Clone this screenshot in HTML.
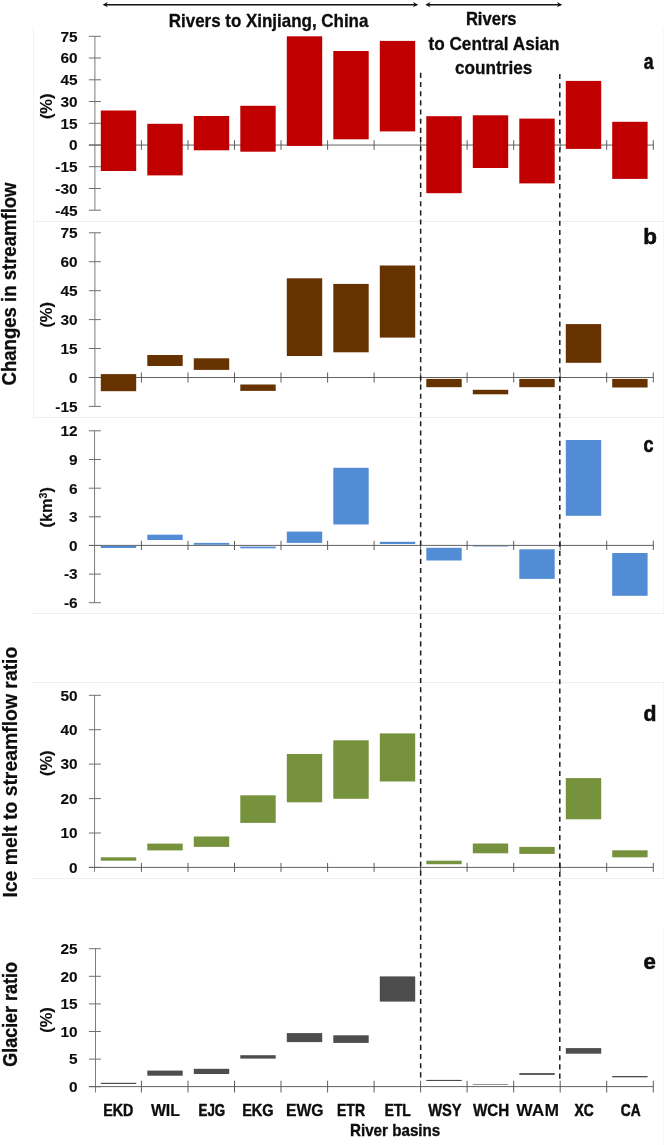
<!DOCTYPE html>
<html><head><meta charset="utf-8"><title>chart</title>
<style>html,body{margin:0;padding:0;background:#fff;}svg{display:block;will-change:transform}</style>
</head><body>
<svg width="666" height="1145" viewBox="0 0 666 1145" font-family="Liberation Sans, sans-serif" font-weight="bold" font-kerning="none" fill="#0d0d0d">
<rect x="0" y="0" width="666" height="1145" fill="#fff"/>
<line x1="33" y1="221.5" x2="664" y2="221.5" stroke="#eeeeee" stroke-width="1"/>
<line x1="33" y1="417.5" x2="664" y2="417.5" stroke="#eeeeee" stroke-width="1"/>
<line x1="33" y1="613.5" x2="664" y2="613.5" stroke="#eeeeee" stroke-width="1"/>
<line x1="33" y1="682.5" x2="664" y2="682.5" stroke="#eeeeee" stroke-width="1"/>
<line x1="33" y1="878.5" x2="664" y2="878.5" stroke="#eeeeee" stroke-width="1"/>
<line x1="33.5" y1="26" x2="33.5" y2="417.5" stroke="#f3f3f3" stroke-width="1"/>
<line x1="663.5" y1="28" x2="663.5" y2="613.5" stroke="#f6f6f6" stroke-width="1"/>
<line x1="663.5" y1="682.5" x2="663.5" y2="878.5" stroke="#f6f6f6" stroke-width="1"/>
<line x1="663.5" y1="930" x2="663.5" y2="1145" stroke="#f6f6f6" stroke-width="1"/>
<line x1="94.9" y1="36.3" x2="94.9" y2="210.2" stroke="#7c7c7c" stroke-width="1"/>
<line x1="88.9" y1="36.3" x2="100.9" y2="36.3" stroke="#707070" stroke-width="1"/>
<line x1="88.9" y1="58.0" x2="100.9" y2="58.0" stroke="#707070" stroke-width="1"/>
<line x1="88.9" y1="79.8" x2="100.9" y2="79.8" stroke="#707070" stroke-width="1"/>
<line x1="88.9" y1="101.5" x2="100.9" y2="101.5" stroke="#707070" stroke-width="1"/>
<line x1="88.9" y1="123.3" x2="100.9" y2="123.3" stroke="#707070" stroke-width="1"/>
<line x1="88.9" y1="145.0" x2="100.9" y2="145.0" stroke="#707070" stroke-width="1"/>
<line x1="88.9" y1="166.7" x2="100.9" y2="166.7" stroke="#707070" stroke-width="1"/>
<line x1="88.9" y1="188.5" x2="100.9" y2="188.5" stroke="#707070" stroke-width="1"/>
<line x1="88.9" y1="210.2" x2="100.9" y2="210.2" stroke="#707070" stroke-width="1"/>
<line x1="88.9" y1="145.05" x2="653.26" y2="145.05" stroke="#626262" stroke-width="1"/>
<line x1="141.4" y1="140.25" x2="141.4" y2="149.85000000000002" stroke="#5c5c5c" stroke-width="1"/>
<line x1="188.0" y1="140.25" x2="188.0" y2="149.85000000000002" stroke="#5c5c5c" stroke-width="1"/>
<line x1="234.5" y1="140.25" x2="234.5" y2="149.85000000000002" stroke="#5c5c5c" stroke-width="1"/>
<line x1="281.0" y1="140.25" x2="281.0" y2="149.85000000000002" stroke="#5c5c5c" stroke-width="1"/>
<line x1="327.6" y1="140.25" x2="327.6" y2="149.85000000000002" stroke="#5c5c5c" stroke-width="1"/>
<line x1="374.1" y1="140.25" x2="374.1" y2="149.85000000000002" stroke="#5c5c5c" stroke-width="1"/>
<line x1="420.6" y1="140.25" x2="420.6" y2="149.85000000000002" stroke="#5c5c5c" stroke-width="1"/>
<line x1="467.1" y1="140.25" x2="467.1" y2="149.85000000000002" stroke="#5c5c5c" stroke-width="1"/>
<line x1="513.7" y1="140.25" x2="513.7" y2="149.85000000000002" stroke="#5c5c5c" stroke-width="1"/>
<line x1="560.2" y1="140.25" x2="560.2" y2="149.85000000000002" stroke="#5c5c5c" stroke-width="1"/>
<line x1="606.7" y1="140.25" x2="606.7" y2="149.85000000000002" stroke="#5c5c5c" stroke-width="1"/>
<line x1="653.3" y1="140.25" x2="653.3" y2="149.85000000000002" stroke="#5c5c5c" stroke-width="1"/>
<rect x="100.8" y="110.5" width="35.4" height="60.5" fill="#c00000"/>
<rect x="147.3" y="123.8" width="35.4" height="51.6" fill="#c00000"/>
<rect x="193.8" y="116.0" width="35.4" height="34.3" fill="#c00000"/>
<rect x="240.3" y="105.8" width="35.4" height="45.9" fill="#c00000"/>
<rect x="286.8" y="36.3" width="35.4" height="109.6" fill="#c00000"/>
<rect x="333.3" y="51.0" width="35.4" height="88.3" fill="#c00000"/>
<rect x="379.8" y="40.9" width="35.4" height="90.5" fill="#c00000"/>
<rect x="426.3" y="116.2" width="35.4" height="77.0" fill="#c00000"/>
<rect x="472.8" y="115.3" width="35.4" height="52.7" fill="#c00000"/>
<rect x="519.3" y="118.6" width="35.4" height="64.8" fill="#c00000"/>
<rect x="565.8" y="80.9" width="35.4" height="68.0" fill="#c00000"/>
<rect x="612.2" y="121.8" width="35.4" height="57.1" fill="#c00000"/>
<line x1="94.9" y1="232.8" x2="94.9" y2="406.4" stroke="#7c7c7c" stroke-width="1"/>
<line x1="88.9" y1="232.8" x2="100.9" y2="232.8" stroke="#707070" stroke-width="1"/>
<line x1="88.9" y1="261.7" x2="100.9" y2="261.7" stroke="#707070" stroke-width="1"/>
<line x1="88.9" y1="290.7" x2="100.9" y2="290.7" stroke="#707070" stroke-width="1"/>
<line x1="88.9" y1="319.6" x2="100.9" y2="319.6" stroke="#707070" stroke-width="1"/>
<line x1="88.9" y1="348.5" x2="100.9" y2="348.5" stroke="#707070" stroke-width="1"/>
<line x1="88.9" y1="377.5" x2="100.9" y2="377.5" stroke="#707070" stroke-width="1"/>
<line x1="88.9" y1="406.4" x2="100.9" y2="406.4" stroke="#707070" stroke-width="1"/>
<line x1="88.9" y1="377.5" x2="653.26" y2="377.5" stroke="#626262" stroke-width="1"/>
<line x1="141.4" y1="372.5" x2="141.4" y2="382.5" stroke="#5c5c5c" stroke-width="1"/>
<line x1="188.0" y1="372.5" x2="188.0" y2="382.5" stroke="#5c5c5c" stroke-width="1"/>
<line x1="234.5" y1="372.5" x2="234.5" y2="382.5" stroke="#5c5c5c" stroke-width="1"/>
<line x1="281.0" y1="372.5" x2="281.0" y2="382.5" stroke="#5c5c5c" stroke-width="1"/>
<line x1="327.6" y1="372.5" x2="327.6" y2="382.5" stroke="#5c5c5c" stroke-width="1"/>
<line x1="374.1" y1="372.5" x2="374.1" y2="382.5" stroke="#5c5c5c" stroke-width="1"/>
<line x1="420.6" y1="372.5" x2="420.6" y2="382.5" stroke="#5c5c5c" stroke-width="1"/>
<line x1="467.1" y1="372.5" x2="467.1" y2="382.5" stroke="#5c5c5c" stroke-width="1"/>
<line x1="513.7" y1="372.5" x2="513.7" y2="382.5" stroke="#5c5c5c" stroke-width="1"/>
<line x1="560.2" y1="372.5" x2="560.2" y2="382.5" stroke="#5c5c5c" stroke-width="1"/>
<line x1="606.7" y1="372.5" x2="606.7" y2="382.5" stroke="#5c5c5c" stroke-width="1"/>
<line x1="653.3" y1="372.5" x2="653.3" y2="382.5" stroke="#5c5c5c" stroke-width="1"/>
<rect x="100.8" y="374.1" width="35.4" height="17.1" fill="#663300"/>
<rect x="147.3" y="355.0" width="35.4" height="11.0" fill="#663300"/>
<rect x="193.8" y="358.3" width="35.4" height="11.6" fill="#663300"/>
<rect x="240.3" y="384.5" width="35.4" height="6.4" fill="#663300"/>
<rect x="286.8" y="278.3" width="35.4" height="77.7" fill="#663300"/>
<rect x="333.3" y="283.9" width="35.4" height="68.4" fill="#663300"/>
<rect x="379.8" y="265.5" width="35.4" height="72.1" fill="#663300"/>
<rect x="426.3" y="378.9" width="35.4" height="8.3" fill="#663300"/>
<rect x="472.8" y="389.8" width="35.4" height="4.5" fill="#663300"/>
<rect x="519.3" y="378.9" width="35.4" height="8.3" fill="#663300"/>
<rect x="565.8" y="324.1" width="35.4" height="38.7" fill="#663300"/>
<rect x="612.2" y="378.9" width="35.4" height="8.6" fill="#663300"/>
<line x1="94.55" y1="430.8" x2="94.55" y2="602.7" stroke="#7c7c7c" stroke-width="1"/>
<line x1="88.9" y1="430.8" x2="100.9" y2="430.8" stroke="#707070" stroke-width="1"/>
<line x1="88.9" y1="459.5" x2="100.9" y2="459.5" stroke="#707070" stroke-width="1"/>
<line x1="88.9" y1="488.2" x2="100.9" y2="488.2" stroke="#707070" stroke-width="1"/>
<line x1="88.9" y1="516.8" x2="100.9" y2="516.8" stroke="#707070" stroke-width="1"/>
<line x1="88.9" y1="545.5" x2="100.9" y2="545.5" stroke="#707070" stroke-width="1"/>
<line x1="88.9" y1="574.1" x2="100.9" y2="574.1" stroke="#707070" stroke-width="1"/>
<line x1="88.9" y1="602.7" x2="100.9" y2="602.7" stroke="#707070" stroke-width="1"/>
<line x1="88.9" y1="545.4" x2="653.26" y2="545.4" stroke="#626262" stroke-width="1"/>
<line x1="141.4" y1="540.8" x2="141.4" y2="550.0" stroke="#5c5c5c" stroke-width="1"/>
<line x1="188.0" y1="540.8" x2="188.0" y2="550.0" stroke="#5c5c5c" stroke-width="1"/>
<line x1="234.5" y1="540.8" x2="234.5" y2="550.0" stroke="#5c5c5c" stroke-width="1"/>
<line x1="281.0" y1="540.8" x2="281.0" y2="550.0" stroke="#5c5c5c" stroke-width="1"/>
<line x1="327.6" y1="540.8" x2="327.6" y2="550.0" stroke="#5c5c5c" stroke-width="1"/>
<line x1="374.1" y1="540.8" x2="374.1" y2="550.0" stroke="#5c5c5c" stroke-width="1"/>
<line x1="420.6" y1="540.8" x2="420.6" y2="550.0" stroke="#5c5c5c" stroke-width="1"/>
<line x1="467.1" y1="540.8" x2="467.1" y2="550.0" stroke="#5c5c5c" stroke-width="1"/>
<line x1="513.7" y1="540.8" x2="513.7" y2="550.0" stroke="#5c5c5c" stroke-width="1"/>
<line x1="560.2" y1="540.8" x2="560.2" y2="550.0" stroke="#5c5c5c" stroke-width="1"/>
<line x1="606.7" y1="540.8" x2="606.7" y2="550.0" stroke="#5c5c5c" stroke-width="1"/>
<line x1="653.3" y1="540.8" x2="653.3" y2="550.0" stroke="#5c5c5c" stroke-width="1"/>
<rect x="100.8" y="545.9" width="35.4" height="2.1" fill="#528cd5"/>
<rect x="147.3" y="534.7" width="35.4" height="5.3" fill="#528cd5"/>
<rect x="193.8" y="542.9" width="35.4" height="1.9" fill="#528cd5"/>
<rect x="240.3" y="546.6" width="35.4" height="1.7" fill="#528cd5"/>
<rect x="286.8" y="531.6" width="35.4" height="11.3" fill="#528cd5"/>
<rect x="333.3" y="467.8" width="35.4" height="56.7" fill="#528cd5"/>
<rect x="379.8" y="541.8" width="35.4" height="2.2" fill="#528cd5"/>
<rect x="426.3" y="547.8" width="35.4" height="12.7" fill="#528cd5"/>
<rect x="472.8" y="546.3" width="35.4" height="0.5" fill="#528cd5"/>
<rect x="519.3" y="549.3" width="35.4" height="29.6" fill="#528cd5"/>
<rect x="565.8" y="440.0" width="35.4" height="75.8" fill="#528cd5"/>
<rect x="612.2" y="553.0" width="35.4" height="42.8" fill="#528cd5"/>
<line x1="94.55" y1="695.3" x2="94.55" y2="871.9" stroke="#7c7c7c" stroke-width="1"/>
<line x1="88.9" y1="695.3" x2="100.9" y2="695.3" stroke="#707070" stroke-width="1"/>
<line x1="88.9" y1="729.7" x2="100.9" y2="729.7" stroke="#707070" stroke-width="1"/>
<line x1="88.9" y1="764.1" x2="100.9" y2="764.1" stroke="#707070" stroke-width="1"/>
<line x1="88.9" y1="798.6" x2="100.9" y2="798.6" stroke="#707070" stroke-width="1"/>
<line x1="88.9" y1="833.0" x2="100.9" y2="833.0" stroke="#707070" stroke-width="1"/>
<line x1="88.9" y1="867.4" x2="100.9" y2="867.4" stroke="#707070" stroke-width="1"/>
<line x1="88.9" y1="867.4" x2="653.26" y2="867.4" stroke="#626262" stroke-width="1"/>
<line x1="141.4" y1="862.9" x2="141.4" y2="871.9" stroke="#5c5c5c" stroke-width="1"/>
<line x1="188.0" y1="862.9" x2="188.0" y2="871.9" stroke="#5c5c5c" stroke-width="1"/>
<line x1="234.5" y1="862.9" x2="234.5" y2="871.9" stroke="#5c5c5c" stroke-width="1"/>
<line x1="281.0" y1="862.9" x2="281.0" y2="871.9" stroke="#5c5c5c" stroke-width="1"/>
<line x1="327.6" y1="862.9" x2="327.6" y2="871.9" stroke="#5c5c5c" stroke-width="1"/>
<line x1="374.1" y1="862.9" x2="374.1" y2="871.9" stroke="#5c5c5c" stroke-width="1"/>
<line x1="420.6" y1="862.9" x2="420.6" y2="871.9" stroke="#5c5c5c" stroke-width="1"/>
<line x1="467.1" y1="862.9" x2="467.1" y2="871.9" stroke="#5c5c5c" stroke-width="1"/>
<line x1="513.7" y1="862.9" x2="513.7" y2="871.9" stroke="#5c5c5c" stroke-width="1"/>
<line x1="560.2" y1="862.9" x2="560.2" y2="871.9" stroke="#5c5c5c" stroke-width="1"/>
<line x1="606.7" y1="862.9" x2="606.7" y2="871.9" stroke="#5c5c5c" stroke-width="1"/>
<line x1="653.3" y1="862.9" x2="653.3" y2="871.9" stroke="#5c5c5c" stroke-width="1"/>
<rect x="100.8" y="857.3" width="35.4" height="3.4" fill="#76923c"/>
<rect x="147.3" y="843.6" width="35.4" height="6.8" fill="#76923c"/>
<rect x="193.8" y="836.5" width="35.4" height="10.4" fill="#76923c"/>
<rect x="240.3" y="795.3" width="35.4" height="27.6" fill="#76923c"/>
<rect x="286.8" y="754.0" width="35.4" height="48.3" fill="#76923c"/>
<rect x="333.3" y="740.3" width="35.4" height="58.5" fill="#76923c"/>
<rect x="379.8" y="733.4" width="35.4" height="48.1" fill="#76923c"/>
<rect x="426.3" y="860.7" width="35.4" height="3.5" fill="#76923c"/>
<rect x="472.8" y="843.5" width="35.4" height="9.8" fill="#76923c"/>
<rect x="519.3" y="846.9" width="35.4" height="7.0" fill="#76923c"/>
<rect x="565.8" y="778.1" width="35.4" height="41.2" fill="#76923c"/>
<rect x="612.2" y="850.3" width="35.4" height="7.0" fill="#76923c"/>
<line x1="95.5" y1="948.7" x2="95.5" y2="1092.5" stroke="#7c7c7c" stroke-width="1"/>
<line x1="88.9" y1="948.7" x2="100.9" y2="948.7" stroke="#707070" stroke-width="1"/>
<line x1="88.9" y1="976.3" x2="100.9" y2="976.3" stroke="#707070" stroke-width="1"/>
<line x1="88.9" y1="1003.9" x2="100.9" y2="1003.9" stroke="#707070" stroke-width="1"/>
<line x1="88.9" y1="1031.5" x2="100.9" y2="1031.5" stroke="#707070" stroke-width="1"/>
<line x1="88.9" y1="1059.1" x2="100.9" y2="1059.1" stroke="#707070" stroke-width="1"/>
<line x1="88.9" y1="1086.7" x2="100.9" y2="1086.7" stroke="#707070" stroke-width="1"/>
<line x1="88.9" y1="1086.6" x2="653.26" y2="1086.6" stroke="#626262" stroke-width="1"/>
<line x1="141.4" y1="1080.6999999999998" x2="141.4" y2="1092.5" stroke="#5c5c5c" stroke-width="1"/>
<line x1="188.0" y1="1080.6999999999998" x2="188.0" y2="1092.5" stroke="#5c5c5c" stroke-width="1"/>
<line x1="234.5" y1="1080.6999999999998" x2="234.5" y2="1092.5" stroke="#5c5c5c" stroke-width="1"/>
<line x1="281.0" y1="1080.6999999999998" x2="281.0" y2="1092.5" stroke="#5c5c5c" stroke-width="1"/>
<line x1="327.6" y1="1080.6999999999998" x2="327.6" y2="1092.5" stroke="#5c5c5c" stroke-width="1"/>
<line x1="374.1" y1="1080.6999999999998" x2="374.1" y2="1092.5" stroke="#5c5c5c" stroke-width="1"/>
<line x1="420.6" y1="1080.6999999999998" x2="420.6" y2="1092.5" stroke="#5c5c5c" stroke-width="1"/>
<line x1="467.1" y1="1080.6999999999998" x2="467.1" y2="1092.5" stroke="#5c5c5c" stroke-width="1"/>
<line x1="513.7" y1="1080.6999999999998" x2="513.7" y2="1092.5" stroke="#5c5c5c" stroke-width="1"/>
<line x1="560.2" y1="1080.6999999999998" x2="560.2" y2="1092.5" stroke="#5c5c5c" stroke-width="1"/>
<line x1="606.7" y1="1080.6999999999998" x2="606.7" y2="1092.5" stroke="#5c5c5c" stroke-width="1"/>
<line x1="653.3" y1="1080.6999999999998" x2="653.3" y2="1092.5" stroke="#5c5c5c" stroke-width="1"/>
<rect x="100.8" y="1082.8" width="35.4" height="1.2" fill="#4d4d4d"/>
<rect x="147.3" y="1070.6" width="35.4" height="5.1" fill="#4d4d4d"/>
<rect x="193.8" y="1068.8" width="35.4" height="5.2" fill="#4d4d4d"/>
<rect x="240.3" y="1055.2" width="35.4" height="3.4" fill="#4d4d4d"/>
<rect x="286.8" y="1033.1" width="35.4" height="9.0" fill="#4d4d4d"/>
<rect x="333.3" y="1035.3" width="35.4" height="7.6" fill="#4d4d4d"/>
<rect x="379.8" y="976.4" width="35.4" height="25.2" fill="#4d4d4d"/>
<rect x="426.3" y="1079.9" width="35.4" height="1.1" fill="#4d4d4d"/>
<rect x="472.8" y="1084.1" width="35.4" height="0.6" fill="#4d4d4d"/>
<rect x="519.3" y="1073.1" width="35.4" height="1.8" fill="#4d4d4d"/>
<rect x="565.8" y="1048.1" width="35.4" height="5.6" fill="#4d4d4d"/>
<rect x="612.2" y="1076.0" width="35.4" height="1.3" fill="#4d4d4d"/>
<line x1="420.65" y1="72.8" x2="420.65" y2="1079.5" stroke="#1c1c1c" stroke-width="1.5" stroke-dasharray="5.1 4.07"/>
<line x1="559.8" y1="74.0" x2="559.8" y2="1079.5" stroke="#1c1c1c" stroke-width="1.5" stroke-dasharray="5.1 4.07"/>
<line x1="104.6" y1="4.65" x2="416.2" y2="4.65" stroke="#111" stroke-width="1.45"/>
<path d="M102.6 4.65 L107.8 2.0500000000000003 L106.19999999999999 4.65 L107.8 7.25 Z" fill="#111" stroke="none"/>
<path d="M418.2 4.65 L413.0 2.0500000000000003 L414.59999999999997 4.65 L413.0 7.25 Z" fill="#111" stroke="none"/>
<line x1="427.3" y1="4.65" x2="560.2" y2="4.65" stroke="#111" stroke-width="1.45"/>
<path d="M425.3 4.65 L430.5 2.0500000000000003 L428.90000000000003 4.65 L430.5 7.25 Z" fill="#111" stroke="none"/>
<path d="M562.2 4.65 L557.0 2.0500000000000003 L558.6 4.65 L557.0 7.25 Z" fill="#111" stroke="none"/>
<g stroke="#0d0d0d" stroke-width="0.45" stroke-linejoin="round">
<text x="77.6" y="41.6" font-size="15.4" text-anchor="end" stroke-width="0.12">75</text>
<text x="77.6" y="63.3" font-size="15.4" text-anchor="end" stroke-width="0.12">60</text>
<text x="77.6" y="85.1" font-size="15.4" text-anchor="end" stroke-width="0.12">45</text>
<text x="77.6" y="106.8" font-size="15.4" text-anchor="end" stroke-width="0.12">30</text>
<text x="77.6" y="128.6" font-size="15.4" text-anchor="end" stroke-width="0.12">15</text>
<text x="77.6" y="150.3" font-size="15.4" text-anchor="end" stroke-width="0.12">0</text>
<text x="77.6" y="172.0" font-size="15.4" text-anchor="end" stroke-width="0.12">-15</text>
<text x="77.6" y="193.8" font-size="15.4" text-anchor="end" stroke-width="0.12">-30</text>
<text x="77.6" y="215.5" font-size="15.4" text-anchor="end" stroke-width="0.12">-45</text>
<text x="77.6" y="238.1" font-size="15.4" text-anchor="end" stroke-width="0.12">75</text>
<text x="77.6" y="267.0" font-size="15.4" text-anchor="end" stroke-width="0.12">60</text>
<text x="77.6" y="296.0" font-size="15.4" text-anchor="end" stroke-width="0.12">45</text>
<text x="77.6" y="324.9" font-size="15.4" text-anchor="end" stroke-width="0.12">30</text>
<text x="77.6" y="353.8" font-size="15.4" text-anchor="end" stroke-width="0.12">15</text>
<text x="77.6" y="382.8" font-size="15.4" text-anchor="end" stroke-width="0.12">0</text>
<text x="77.6" y="411.7" font-size="15.4" text-anchor="end" stroke-width="0.12">-15</text>
<text x="77.6" y="436.1" font-size="15.4" text-anchor="end" stroke-width="0.12">12</text>
<text x="77.6" y="464.8" font-size="15.4" text-anchor="end" stroke-width="0.12">9</text>
<text x="77.6" y="493.5" font-size="15.4" text-anchor="end" stroke-width="0.12">6</text>
<text x="77.6" y="522.1" font-size="15.4" text-anchor="end" stroke-width="0.12">3</text>
<text x="77.6" y="550.8" font-size="15.4" text-anchor="end" stroke-width="0.12">0</text>
<text x="77.6" y="579.4" font-size="15.4" text-anchor="end" stroke-width="0.12">-3</text>
<text x="77.6" y="608.0" font-size="15.4" text-anchor="end" stroke-width="0.12">-6</text>
<text x="77.6" y="700.6" font-size="15.4" text-anchor="end" stroke-width="0.12">50</text>
<text x="77.6" y="735.0" font-size="15.4" text-anchor="end" stroke-width="0.12">40</text>
<text x="77.6" y="769.4" font-size="15.4" text-anchor="end" stroke-width="0.12">30</text>
<text x="77.6" y="803.9" font-size="15.4" text-anchor="end" stroke-width="0.12">20</text>
<text x="77.6" y="838.3" font-size="15.4" text-anchor="end" stroke-width="0.12">10</text>
<text x="77.6" y="872.7" font-size="15.4" text-anchor="end" stroke-width="0.12">0</text>
<text x="77.6" y="954.0" font-size="15.4" text-anchor="end" stroke-width="0.12">25</text>
<text x="77.6" y="981.6" font-size="15.4" text-anchor="end" stroke-width="0.12">20</text>
<text x="77.6" y="1009.2" font-size="15.4" text-anchor="end" stroke-width="0.12">15</text>
<text x="77.6" y="1036.8" font-size="15.4" text-anchor="end" stroke-width="0.12">10</text>
<text x="77.6" y="1064.4" font-size="15.4" text-anchor="end" stroke-width="0.12">5</text>
<text x="77.6" y="1092.0" font-size="15.4" text-anchor="end" stroke-width="0.12">0</text>
<text x="168.77" y="27.4" font-size="17.8" textLength="199.63" lengthAdjust="spacingAndGlyphs" stroke-width="0.31" >Rivers to Xinjiang, China</text>
<text x="465.89" y="25.1" font-size="17.8" textLength="50.69" lengthAdjust="spacingAndGlyphs" stroke-width="0.35" >Rivers</text>
<text x="428.49" y="49.8" font-size="17.8" textLength="131.07" lengthAdjust="spacingAndGlyphs" stroke-width="0.29" >to Central Asian</text>
<text x="455.03" y="74.1" font-size="17.8" textLength="77.27" lengthAdjust="spacingAndGlyphs" stroke-width="0.28" >countries</text>
<text x="643.78" y="69.0" font-size="22.1" textLength="9.80" lengthAdjust="spacingAndGlyphs" stroke-width="0.60" >a</text>
<text x="643.22" y="243.5" font-size="22.8" textLength="13.70" lengthAdjust="spacingAndGlyphs" stroke-width="0.60" >b</text>
<text x="643.60" y="452.0" font-size="22.2" textLength="10.03" lengthAdjust="spacingAndGlyphs" stroke-width="0.60" >c</text>
<text x="643.43" y="720.5" font-size="22.8" textLength="12.97" lengthAdjust="spacingAndGlyphs" stroke-width="0.60" >d</text>
<text x="643.43" y="969.3" font-size="22.2" textLength="12.32" lengthAdjust="spacingAndGlyphs" stroke-width="0.60" >e</text>
<text x="103.24" y="1115.7" font-size="16.2" textLength="30.16" lengthAdjust="spacingAndGlyphs" stroke-width="0.46" >EKD</text>
<text x="150.88" y="1115.7" font-size="16.2" textLength="29.10" lengthAdjust="spacingAndGlyphs" stroke-width="0.24" >WIL</text>
<text x="198.61" y="1115.7" font-size="16.2" textLength="26.51" lengthAdjust="spacingAndGlyphs" stroke-width="0.55" >EJG</text>
<text x="242.13" y="1115.7" font-size="16.2" textLength="31.47" lengthAdjust="spacingAndGlyphs" stroke-width="0.43" >EKG</text>
<text x="285.95" y="1115.7" font-size="16.2" textLength="37.63" lengthAdjust="spacingAndGlyphs" stroke-width="0.26" >EWG</text>
<text x="337.07" y="1115.7" font-size="16.2" textLength="27.92" lengthAdjust="spacingAndGlyphs" stroke-width="0.50" >ETR</text>
<text x="384.78" y="1115.7" font-size="16.2" textLength="25.94" lengthAdjust="spacingAndGlyphs" stroke-width="0.53" >ETL</text>
<text x="428.19" y="1115.7" font-size="16.2" textLength="33.45" lengthAdjust="spacingAndGlyphs" stroke-width="0.41" >WSY</text>
<text x="472.99" y="1115.7" font-size="16.2" textLength="36.24" lengthAdjust="spacingAndGlyphs" stroke-width="0.34" >WCH</text>
<text x="516.38" y="1115.7" font-size="16.2" textLength="42.56" lengthAdjust="spacingAndGlyphs" stroke-width="0.10" >WAM</text>
<text x="574.58" y="1115.7" font-size="16.2" textLength="19.20" lengthAdjust="spacingAndGlyphs" stroke-width="0.52" >XC</text>
<text x="620.74" y="1115.7" font-size="16.2" textLength="19.82" lengthAdjust="spacingAndGlyphs" stroke-width="0.54" >CA</text>
<text x="349.98" y="1136" font-size="16.2" textLength="90.34" lengthAdjust="spacingAndGlyphs" stroke-width="0.34" >River basins</text>
<text stroke-width="0.29" transform="translate(16.2 385.46) rotate(-90)" x="0" y="0" font-size="19.3" textLength="203.02" lengthAdjust="spacingAndGlyphs">Changes in streamflow</text>
<text stroke-width="0.19" transform="translate(17.0 897.60) rotate(-90)" x="0" y="0" font-size="19.3" textLength="250.95" lengthAdjust="spacingAndGlyphs">Ice melt to streamflow ratio</text>
<text stroke-width="0.36" transform="translate(16.8 1066.74) rotate(-90)" x="0" y="0" font-size="19.3" textLength="104.64" lengthAdjust="spacingAndGlyphs">Glacier ratio</text>
<text stroke-width="0.12" transform="translate(52.0 119.12) rotate(-90)" x="0" y="0" font-size="15.9" textLength="25.64" lengthAdjust="spacingAndGlyphs">(%)</text>
<text stroke-width="0.12" transform="translate(52.0 327.62) rotate(-90)" x="0" y="0" font-size="15.9" textLength="25.64" lengthAdjust="spacingAndGlyphs">(%)</text>
<text stroke-width="0.12" transform="translate(52.0 776.02) rotate(-90)" x="0" y="0" font-size="15.9" textLength="25.64" lengthAdjust="spacingAndGlyphs">(%)</text>
<text stroke-width="0.12" transform="translate(52.0 1032.82) rotate(-90)" x="0" y="0" font-size="15.9" textLength="25.64" lengthAdjust="spacingAndGlyphs">(%)</text>
<text transform="translate(52.0 527.4) rotate(-90)" stroke-width="0.15" font-size="15.9" textLength="40.2" lengthAdjust="spacingAndGlyphs">(km<tspan font-size="10.3" dy="-5.4">3</tspan><tspan dy="5.4">)</tspan></text>
</g>
</svg>
</body></html>
